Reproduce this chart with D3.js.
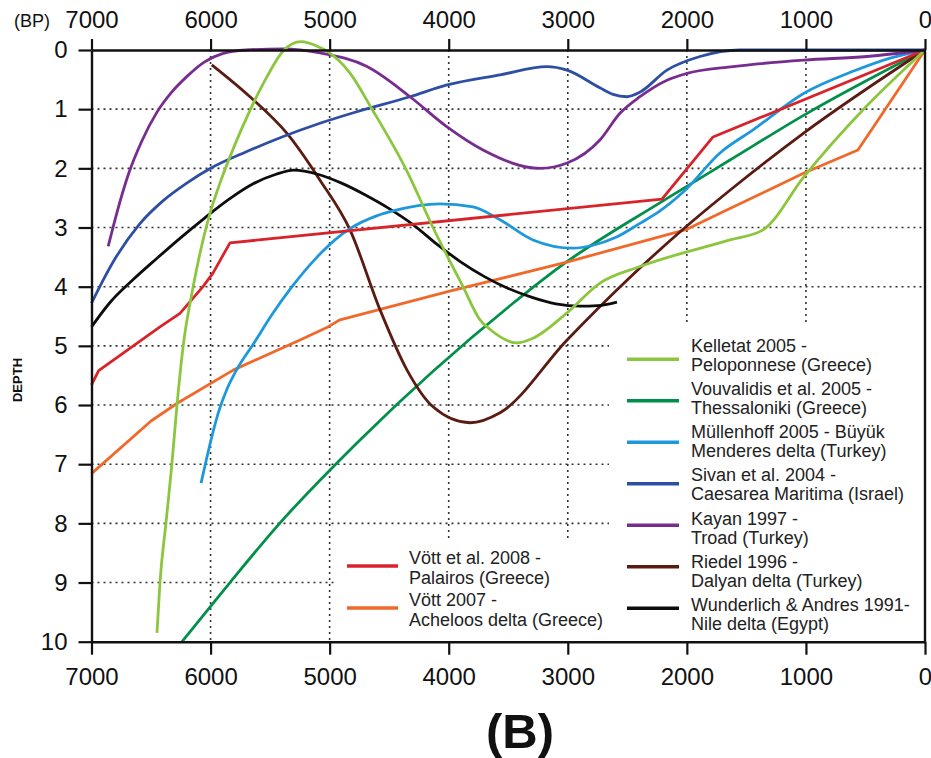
<!DOCTYPE html>
<html>
<head>
<meta charset="utf-8">
<script src="https://cdn.jsdelivr.net/npm/d3@7"></script>
<style>
  html, body { margin: 0; padding: 0; background: #fff; }
  svg { display: block; font-family: "Liberation Sans", Arial, Helvetica, sans-serif; }
</style>
</head>
<body>
<svg id="chart" width="931" height="758"></svg>
<script>
// ---------- DATA (years BP, depth) ----------
const bpTicks = [7000, 6000, 5000, 4000, 3000, 2000, 1000, 0];
const depthTicks = [0, 1, 2, 3, 4, 5, 6, 7, 8, 9, 10];

const vott2008 = [[7000,5.66],[6940,5.42],[6425,4.68],[6257,4.45],[6064,4.0],[5980,3.77],[5837,3.26],[2209,2.52],[1780,1.47],[0,0]];
const vott2007 = [[7000,7.16],[6500,6.27],[6280,5.97],[5810,5.41],[5249,4.9],[5014,4.68],[4913,4.56],[4000,4.08],[3000,3.58],[2000,3.03],[1722,2.76],[1016,2.08],[563,1.69],[0,0]];
const kelletat = [[6450,9.85],[6425,9.0],[6375,8.0],[6325,7.0],[6282,6.0],[6230,5.0],[6148,4.02],[6005,2.76],[5921,2.25],[5800,1.62],[5669,1.02],[5526,0.45],[5392,0.02],[5240,-0.14],[5100,-0.06],[5022,0.02],[4829,0.39],[4644,1.0],[4350,2.05],[4132,3.0],[3880,4.0],[3737,4.56],[3654,4.72],[3427,4.95],[3292,4.87],[3006,4.44],[2730,3.94],[2394,3.66],[1638,3.21],[1360,3.04],[1016,2.14],[520,1.01],[0,0]];
const vouvalidis = [[6240,10],[5837,9.0],[5442,8.05],[4745,6.59],[3460,4.28],[3065,3.66],[2200,2.55],[1638,1.86],[1016,1.1],[0,0]];
const mullenhoff = [[6080,7.32],[6035,6.92],[5985,6.5],[5930,6.1],[5860,5.72],[5780,5.4],[5635,4.95],[5484,4.47],[5316,4.0],[5106,3.5],[4950,3.2],[4829,3.02],[4600,2.8],[4468,2.72],[4073,2.6],[3796,2.65],[3569,2.87],[3292,3.21],[2956,3.35],[2788,3.3],[2600,3.17],[2394,2.93],[2226,2.72],[2015,2.37],[1722,1.74],[1444,1.35],[1016,0.73],[605,0.36],[300,0.14],[0,0]];
const sivan = [[7000,4.28],[6900,3.88],[6800,3.52],[6600,2.95],[6400,2.55],[6200,2.25],[6000,2.0],[5700,1.72],[5400,1.47],[5100,1.25],[4800,1.06],[4325,0.79],[4014,0.59],[3569,0.42],[3175,0.28],[3006,0.34],[2730,0.64],[2620,0.75],[2503,0.79],[2400,0.72],[2167,0.34],[1890,0.11],[1554,0.0],[1200,0.0],[0,0]];
const kayan = [[6860,3.32],[6780,2.7],[6690,2.1],[6580,1.55],[6450,1.05],[6330,0.72],[6200,0.45],[6050,0.2],[5900,0.06],[5700,0.0],[5392,-0.02],[5081,0.05],[4686,0.28],[4325,0.79],[4014,1.3],[3712,1.69],[3233,2.0],[3006,1.91],[2730,1.52],[2562,1.07],[2394,0.79],[2167,0.51],[2007,0.4],[1612,0.28],[1016,0.17],[487,0.11],[0,0]];
const riedel = [[5990,0.25],[5669,0.79],[5358,1.41],[5081,2.2],[4829,3.04],[4577,4.39],[4350,5.41],[4132,6.03],[3821,6.3],[3569,6.13],[3006,4.9],[2503,3.89],[2015,3.0],[1638,2.37],[1016,1.4],[0,0]];
const wunderlich = [[7000,4.68],[6850,4.28],[6650,3.88],[6450,3.52],[6250,3.17],[6050,2.84],[5850,2.53],[5650,2.27],[5450,2.1],[5300,2.03],[5100,2.1],[4900,2.25],[4700,2.45],[4500,2.68],[4300,2.95],[4100,3.28],[3900,3.58],[3700,3.83],[3500,4.03],[3300,4.18],[3100,4.29],[2900,4.33],[2750,4.32],[2587,4.26]];

const legendRight = [
  {name: "kelletat",   l1: "Kelletat 2005 -",           l2: "Peloponnese (Greece)"},
  {name: "vouvalidis", l1: "Vouvalidis et al. 2005 -",  l2: "Thessaloniki (Greece)"},
  {name: "mullenhoff", l1: "Müllenhoff 2005 - Büyük",   l2: "Menderes delta (Turkey)"},
  {name: "sivan",      l1: "Sivan et al. 2004 -",       l2: "Caesarea Maritima (Israel)"},
  {name: "kayan",      l1: "Kayan 1997 -",              l2: "Troad (Turkey)"},
  {name: "riedel",     l1: "Riedel 1996 -",             l2: "Dalyan delta (Turkey)"},
  {name: "wunderlich", l1: "Wunderlich & Andres 1991-", l2: "Nile delta (Egypt)"}
];
const legendLeft = [
  {name: "vott2008", l1: "Vött et al. 2008 -", l2: "Palairos (Greece)"},
  {name: "vott2007", l1: "Vött 2007 -",        l2: "Acheloos delta (Greece)"}
];

// ---------- STYLES ----------
const series = {
  vott2008:   {data: vott2008,   color: "#d8232a", curve: d3.curveLinear},
  vott2007:   {data: vott2007,   color: "#f0692a", curve: d3.curveLinear},
  kelletat:   {data: kelletat,   color: "#8cc63e", curve: d3.curveMonotoneX},
  vouvalidis: {data: vouvalidis, color: "#00904a", curve: d3.curveMonotoneX},
  mullenhoff: {data: mullenhoff, color: "#1e98dc", curve: d3.curveMonotoneX},
  sivan:      {data: sivan,      color: "#2d4ea3", curve: d3.curveMonotoneX},
  kayan:      {data: kayan,      color: "#772c8f", curve: d3.curveMonotoneX},
  riedel:     {data: riedel,     color: "#5a1b12", curve: d3.curveMonotoneX},
  wunderlich: {data: wunderlich, color: "#0d0d0d", curve: d3.curveMonotoneX}
};
const drawOrder = ["vouvalidis","vott2007","riedel","wunderlich","mullenhoff","vott2008","sivan","kayan","kelletat"];

const svg = d3.select("#chart");
const x = d3.scaleLinear().domain([7000, 0]).range([91.5, 925]);
const y = d3.scaleLinear().domain([0, 10]).range([50, 641.7]);

// gridlines
const grid = svg.append("g").attr("stroke", "#333").attr("stroke-width", 1.6).attr("stroke-dasharray", "2,4");
grid.selectAll(".gv").data(bpTicks.filter(d => d > 0 && d < 7000)).join("line")
  .attr("x1", d => x(d)).attr("x2", d => x(d)).attr("y1", y(0)).attr("y2", y(10));
grid.selectAll(".gh").data(depthTicks.filter(d => d > 0 && d < 10)).join("line")
  .attr("x1", x(7000)).attr("x2", x(0)).attr("y1", d => y(d)).attr("y2", d => y(d));

// legend backgrounds (hide grid)
svg.append("rect").attr("x", 609).attr("y", 326).attr("width", 316).attr("height", 316).attr("fill", "#fff");
svg.append("rect").attr("x", 336).attr("y", 539).attr("width", 274).attr("height", 103).attr("fill", "#fff");

// curves
const lineGen = (c) => d3.line().x(d => x(d[0])).y(d => y(d[1])).curve(c);
const curves = svg.append("g").attr("fill", "none").attr("stroke-width", 2.8).attr("stroke-linejoin", "round").attr("stroke-linecap", "butt");
drawOrder.forEach(k => {
  const s = series[k];
  const pts = s.data.slice().sort((a, b) => x(a[0]) - x(b[0]));
  curves.append("path").attr("d", lineGen(s.curve)(pts)).attr("stroke", s.color);
});

// axes
const axisStyle = g => {
  g.selectAll("path.domain").attr("stroke", "#111").attr("stroke-width", 2.4);
  g.selectAll(".tick line").attr("stroke", "#111").attr("stroke-width", 2.2);
  g.selectAll(".tick text").attr("fill", "#111").attr("font-size", 24)
    .attr("font-family", "'Liberation Sans', Arial, Helvetica, sans-serif");
};
svg.append("g").attr("transform", `translate(0,${y(0)})`)
  .call(d3.axisTop(x).tickValues(bpTicks).tickFormat(d3.format("d")).tickSize(11).tickSizeOuter(0).tickPadding(11))
  .call(axisStyle);
svg.append("g").attr("transform", `translate(0,${y(10)})`)
  .call(d3.axisBottom(x).tickValues(bpTicks).tickFormat(d3.format("d")).tickSize(13).tickSizeOuter(0).tickPadding(13))
  .call(axisStyle);
svg.append("g").attr("transform", `translate(${x(7000)},0)`)
  .call(d3.axisLeft(y).tickValues(depthTicks).tickFormat(d3.format("d")).tickSize(13).tickSizeOuter(0).tickPadding(11))
  .call(axisStyle);
svg.append("line").attr("x1", x(0)).attr("x2", x(0)).attr("y1", y(0)).attr("y2", y(10))
  .attr("stroke", "#111").attr("stroke-width", 2.4);

// labels
svg.append("text").attr("x", 32).attr("y", 27).attr("text-anchor", "middle")
  .attr("font-size", 18).attr("fill", "#111").text("(BP)");
svg.append("text").attr("transform", "translate(22,380) rotate(-90)").attr("text-anchor", "middle")
  .attr("font-size", 13).attr("font-weight", "bold").attr("fill", "#111").text("DEPTH");
svg.append("text").attr("x", 520).attr("y", 748).attr("text-anchor", "middle")
  .attr("font-size", 49).attr("font-weight", "bold").attr("fill", "#111").text("(B)");

// legends
const lg = svg.append("g").attr("font-size", 18).attr("fill", "#222");
legendRight.forEach((e, i) => {
  const c1 = 345 + 43.3 * i;
  const ly = 359.3 + 41.5 * i;
  lg.append("line").attr("x1", 627).attr("x2", 679).attr("y1", ly).attr("y2", ly)
    .attr("stroke", series[e.name].color).attr("stroke-width", 3.5);
  lg.append("text").attr("x", 691).attr("y", c1 + 6.5).text(e.l1);
  lg.append("text").attr("x", 691).attr("y", c1 + 19 + 6.5).text(e.l2);
});
legendLeft.forEach((e, i) => {
  const c1 = 557 + 42 * i;
  const ly = 566 + 42 * i;
  lg.append("line").attr("x1", 347).attr("x2", 398).attr("y1", ly).attr("y2", ly)
    .attr("stroke", series[e.name].color).attr("stroke-width", 3.5);
  lg.append("text").attr("x", 409).attr("y", c1 + 6.5).text(e.l1);
  lg.append("text").attr("x", 409).attr("y", c1 + 20 + 6.5).text(e.l2);
});
</script>
</body>
</html>
